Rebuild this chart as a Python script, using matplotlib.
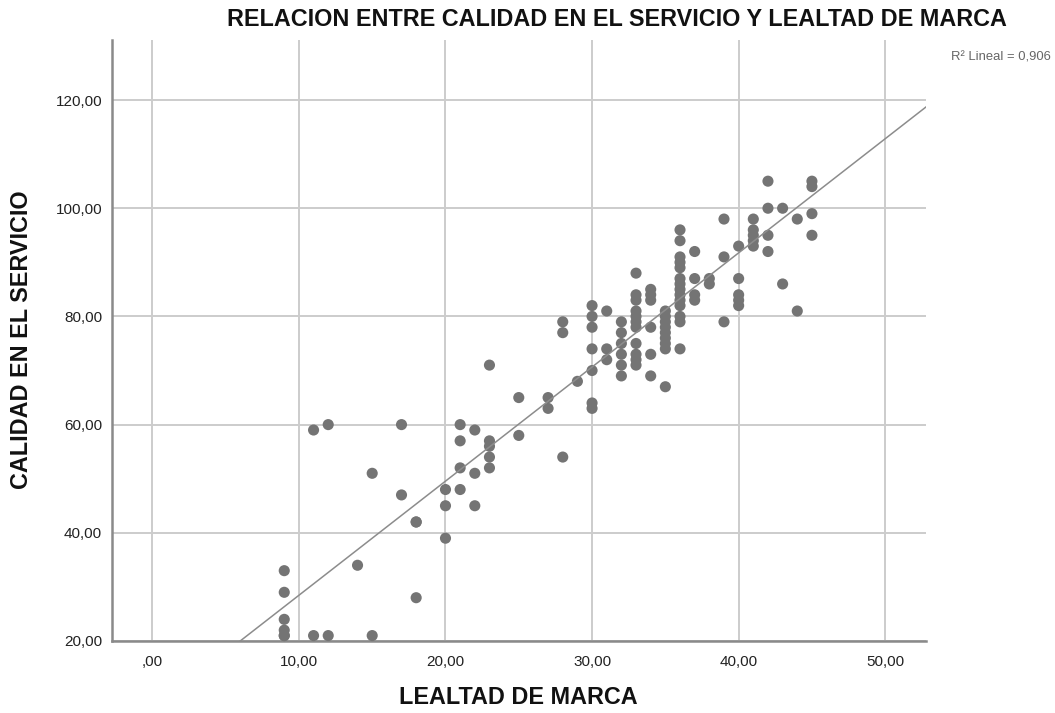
import numpy as np
import matplotlib
matplotlib.use("Agg")
import matplotlib.pyplot as plt

plt.rcParams['font.family'] = ['Liberation Sans', 'DejaVu Sans']

# LEALTAD DE MARCA (x) -> list of CALIDAD EN EL SERVICIO (y) values
groups = {
    9: [33, 29, 24, 22, 21, 21],
    11: [59, 21],
    12: [60, 21],
    14: [34],
    15: [51, 21],
    17: [60, 47],
    18: [42, 42, 28],
    20: [48, 45, 39],
    21: [60, 57, 52, 48],
    22: [59, 51, 45],
    23: [71, 57, 56, 54, 52],
    25: [65, 58],
    27: [65, 63],
    28: [79, 77, 54],
    29: [68],
    30: [82, 80, 78, 74, 70, 64, 63],
    31: [81, 74, 72],
    32: [79, 77, 75, 73, 71, 69],
    33: [88, 84, 83, 81, 80, 79, 78, 75, 73, 72, 71],
    34: [85, 84, 83, 78, 73, 69],
    35: [81, 80, 79, 78, 77, 76, 75, 74, 67],
    36: [96, 94, 91, 90, 89, 87, 86, 85, 84, 83, 82, 80, 79, 74],
    37: [92, 87, 84, 83],
    38: [87, 86],
    39: [98, 91, 79],
    40: [93, 87, 84, 83, 82],
    41: [98, 96, 95, 94, 93],
    42: [105, 100, 95, 92],
    43: [100, 86],
    44: [98, 81],
    45: [105, 104, 99, 95],
}
lealtad = np.array([k for k, vs in groups.items() for _ in vs], dtype=float)
calidad = np.array([v for vs in groups.values() for v in vs], dtype=float)

# linear fit line (R² = 0,906)
fit_slope = 2.11
fit_intercept = 7.35

x_ticks = [0, 10, 20, 30, 40, 50]
y_ticks = [20, 40, 60, 80, 100, 120]
r2_label = "R² Lineal = 0,906"

fig = plt.figure(figsize=(10.55, 7.13), dpi=100)
ax = fig.add_axes([0.1059, 0.101, 0.7718, 0.8429])
ax.set_xlim(-2.77, 52.78)
ax.set_ylim(20, 131.1)

ax.set_xticks(x_ticks)
ax.set_yticks(y_ticks)
fmt = lambda v: (",00" if v == 0 else f"{v:.2f}".replace(".", ","))
ax.set_xticklabels([fmt(v) for v in x_ticks])
ax.set_yticklabels([fmt(v) for v in y_ticks])
ax.tick_params(axis='x', length=0, labelsize=11, colors='#222222', pad=10)
ax.tick_params(axis='y', length=0, labelsize=11, colors='#222222', pad=7)
ax.grid(True, color='#cccccc', linewidth=1.4)
ax.set_axisbelow(True)
for s in ['top', 'right']:
    ax.spines[s].set_visible(False)
for s in ['left', 'bottom']:
    ax.spines[s].set_color('#8a8a8a')
    ax.spines[s].set_linewidth(1.8)

ax.scatter(lealtad, calidad, s=64, color='#747474', edgecolors='none', zorder=3, clip_on=False)

xs = np.array(ax.get_xlim())
ax.plot(xs, fit_intercept + fit_slope * xs, color='#8c8c8c', linewidth=1.1, zorder=4)

fig.text(0.585, 0.972, "RELACION ENTRE CALIDAD EN EL SERVICIO Y LEALTAD DE MARCA",
         ha='center', va='center', fontsize=16.8, fontweight='bold', color='#111111')
fig.text(0.996, 0.92, r2_label, ha='right', va='center', fontsize=9.4, color='#666666')
fig.text(518 / 1055, 1 - 698 / 713, "LEALTAD DE MARCA", ha='center', va='center',
         fontsize=16.8, fontweight='bold', color='#111111')
fig.text(22 / 1055, 1 - 340 / 713, "CALIDAD EN EL SERVICIO", ha='center', va='center',
         rotation=90, fontsize=16.8, fontweight='bold', color='#111111')

fig.savefig("out.png", dpi=100)
